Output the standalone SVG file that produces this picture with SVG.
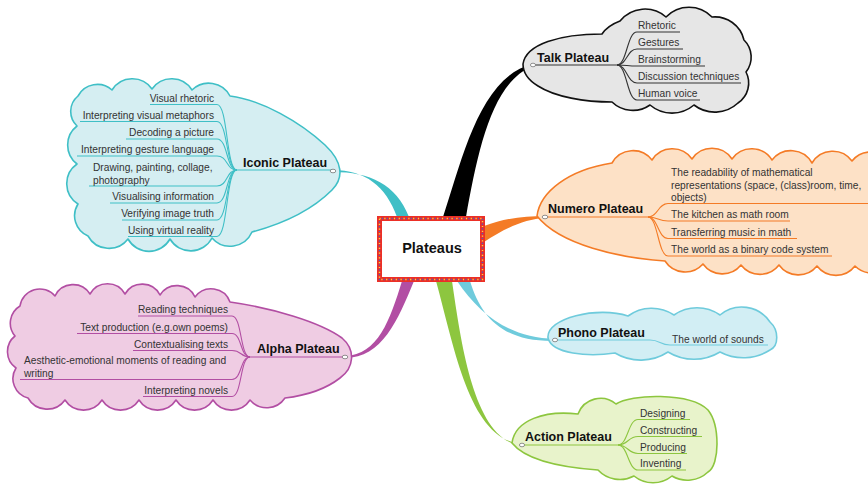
<svg xmlns="http://www.w3.org/2000/svg" xmlns:xlink="http://www.w3.org/1999/xlink" width="868" height="485" viewBox="0 0 868 485">
  <style>
    .t { font-family: "Liberation Sans", Arial, sans-serif; font-size: 10.2px; fill: #333; }
    .h { font-family: "Liberation Sans", Arial, sans-serif; font-size: 12.5px; font-weight: bold; fill: #111; }
    .c { font-family: "Liberation Sans", Arial, sans-serif; font-size: 14.5px; font-weight: bold; fill: #111; }
    .ln { fill: none; stroke-width: 1.1; }
    .cloud { stroke-width: 1.6; stroke-linejoin: round; }
    .dot { fill: #fff; stroke: #777; stroke-width: 0.8; }
  </style>

  <!-- tapered branches from the central topic -->
  <g id="connectors">
    <path d="M 443,217 C 462,160 480,76 533,64 L 533,66 C 492,82 478,150 466,217 Z" fill="#000"/>
    <path d="M 333,170 C 365,170 386,186 397,217 L 409,217 C 396,184 370,172 333,172 Z" fill="#3fbfc6"/>
    <path d="M 484,226 C 505,218 525,216 545,216 L 545,218 C 525,219 505,228 484,242 Z" fill="#f47b26"/>
    <path d="M 457,281 C 480,315 510,338 555,339 L 555,341 C 505,342 482,320 470,281 Z" fill="#6fcbdc"/>
    <path d="M 436,281 C 455,350 470,440 522,444 L 522,446 C 475,440 462,350 452,281 Z" fill="#8dc63f"/>
    <path d="M 402,281 C 390,320 378,355 345,356 L 345,358 C 382,358 398,320 414,281 Z" fill="#b24ea3"/>
  </g>

  <g id="talk">
    <path class="cloud" fill="#e6e6e6" stroke="#111" d="M 523,64 C 526,44 560,34 602,34 C 606,28 612,24 620,21 A 32,32 0 0 1 666,17 A 32,32 0 0 1 712,17 A 30,30 0 0 1 744,40 A 24,24 0 0 1 746,72 A 24,24 0 0 1 738,103 A 34,34 0 0 1 694,105 A 34,34 0 0 1 650,105 A 30,30 0 0 1 612,102 C 585,102 555,97 538,86 C 528,80 523,72 523,64 Z"/>
    <g class="ln" stroke="#333">
      <path d="M 533,65 H 617"/>
      <path d="M 617,65 C 627,65 627,32 637,32 H 680"/>
      <path d="M 617,65 C 627,65 627,49 637,49 H 683"/>
      <path d="M 617,65 C 627,65 627,66 637,66 H 705"/>
      <path d="M 617,65 C 627,65 627,83 637,83 H 741"/>
      <path d="M 617,65 C 627,65 627,100 637,100 H 700"/>
    </g>
    <text class="h" x="537" y="62">Talk Plateau</text>
    <text class="t" x="638" y="29">Rhetoric</text>
    <text class="t" x="638" y="46">Gestures</text>
    <text class="t" x="638" y="63">Brainstorming</text>
    <text class="t" x="638" y="80">Discussion techniques</text>
    <text class="t" x="638" y="97">Human voice</text>
    <ellipse class="dot" cx="533" cy="65" rx="2.6" ry="1.8"/>
  </g>

  <g id="iconic">
    <path class="cloud" fill="#d5eef2" stroke="#3fbfc6" d="M 78,96 A 22,22 0 0 1 112,90 A 24,24 0 0 1 152,89 A 24,24 0 0 1 192,90 A 24,24 0 0 1 230,96 C 262,100 300,122 325,145 C 343,162 344,178 332,190 C 312,210 282,224 252,232 A 24,24 0 0 1 212,238 A 24,24 0 0 1 170,239 A 24,24 0 0 1 128,239 A 24,24 0 0 1 88,236 A 22,22 0 0 1 78,204 A 24,24 0 0 1 77,164 A 24,24 0 0 1 77,126 A 20,20 0 0 1 78,96 Z"/>
    <g class="ln" stroke="#3fbfc6">
      <path d="M 237,170 H 333"/>
      <path d="M 237,170 C 226,170 228,104.5 217,104.5 H 150"/>
      <path d="M 237,170 C 226,170 228,121.5 217,121.5 H 80"/>
      <path d="M 237,170 C 226,170 228,139 217,139 H 126"/>
      <path d="M 237,170 C 226,170 228,156 217,156 H 77"/>
      <path d="M 237,170 C 226,170 228,186 217,186 H 89"/>
      <path d="M 237,170 C 226,170 228,203 217,203 H 110"/>
      <path d="M 237,170 C 226,170 228,220 217,220 H 122"/>
      <path d="M 237,170 C 226,170 228,236.5 217,236.5 H 128"/>
    </g>
    <text class="h" x="243" y="167">Iconic Plateau</text>
    <g class="t" text-anchor="end">
      <text class="t" x="214" y="101.5">Visual rhetoric</text>
      <text class="t" x="214" y="118.5">Interpreting visual metaphors</text>
      <text class="t" x="214" y="136">Decoding a picture</text>
      <text class="t" x="214" y="153">Interpreting gesture language</text>
      <text class="t" x="214" y="200">Visualising information</text>
      <text class="t" x="214" y="217">Verifying image truth</text>
      <text class="t" x="214" y="233.5">Using virtual reality</text>
    </g>
    <text class="t" x="93" y="171">Drawing, painting, collage,</text>
    <text class="t" x="93" y="183.5">photography</text>
    <ellipse class="dot" cx="333" cy="171" rx="2.8" ry="1.8"/>
  </g>

  <g id="numero">
    <path class="cloud" fill="#fde1c6" stroke="#f47b26" d="M 537,216 C 540,192 568,170 612,163 A 24,24 0 0 1 652,160 A 24,24 0 0 1 692,159 A 24,24 0 0 1 732,159 A 24,24 0 0 1 772,160 A 24,24 0 0 1 812,163 A 24,24 0 0 1 852,161 A 24,24 0 0 1 892,165 L 892,262 A 24,24 0 0 1 855,266 A 24,24 0 0 1 817,266 A 24,24 0 0 1 779,265 A 24,24 0 0 1 741,265 A 24,24 0 0 1 703,264 A 24,24 0 0 1 665,261 C 620,258 560,245 537,216 Z"/>
    <g class="ln" stroke="#f47b26">
      <path d="M 545,217 H 648"/>
      <path d="M 648,217 C 658,217 658,203.5 668,203.5 H 870"/>
      <path d="M 648,217 C 658,217 658,221 668,221 H 790"/>
      <path d="M 648,217 C 658,217 658,238.5 668,238.5 H 797"/>
      <path d="M 648,217 C 658,217 658,256 668,256 H 832"/>
    </g>
    <text class="h" x="548" y="213">Numero Plateau</text>
    <text class="t" x="671" y="176">The readability of mathematical</text>
    <text class="t" x="671" y="188.5">representations (space, (class)room, time,</text>
    <text class="t" x="671" y="201">objects)</text>
    <text class="t" x="671" y="218">The kitchen as math room</text>
    <text class="t" x="671" y="235.5">Transferring music in math</text>
    <text class="t" x="671" y="253">The world as a binary code system</text>
    <ellipse class="dot" cx="545" cy="217" rx="2.8" ry="1.8"/>
  </g>

  <g id="alpha">
    <path class="cloud" fill="#efcce3" stroke="#b24ea3" d="M 20,306 A 20,20 0 0 1 55,296 A 20,20 0 0 1 90,294 A 20,20 0 0 1 125,294 A 20,20 0 0 1 160,295 A 20,20 0 0 1 195,297 A 20,20 0 0 1 230,302 C 272,308 320,322 342,338 C 356,350 354,368 340,378 C 322,392 302,396 285,398 A 22,22 0 0 1 250,400 A 22,22 0 0 1 213,400 A 22,22 0 0 1 176,400 A 22,22 0 0 1 139,400 A 22,22 0 0 1 102,400 A 22,22 0 0 1 65,400 A 22,22 0 0 1 28,398 A 20,20 0 0 1 16,368 A 20,20 0 0 1 15,336 A 20,20 0 0 1 20,306 Z"/>
    <g class="ln" stroke="#b24ea3">
      <path d="M 250,357 H 345"/>
      <path d="M 250,357 C 240,357 242,316 232,316 H 138"/>
      <path d="M 250,357 C 240,357 242,333.5 232,333.5 H 77"/>
      <path d="M 250,357 C 240,357 242,350.5 232,350.5 H 133"/>
      <path d="M 250,357 C 240,357 242,379.5 232,379.5 H 20"/>
      <path d="M 250,357 C 240,357 242,396.5 232,396.5 H 143"/>
    </g>
    <text class="h" x="257" y="353">Alpha Plateau</text>
    <g class="t" text-anchor="end">
      <text class="t" x="228" y="313">Reading techniques</text>
      <text class="t" x="228" y="330.5">Text production (e.g.own poems)</text>
      <text class="t" x="228" y="347.5">Contextualising texts</text>
      <text class="t" x="228" y="393.5">Interpreting novels</text>
    </g>
    <text class="t" x="24" y="364">Aesthetic-emotional moments of reading and</text>
    <text class="t" x="24" y="376.5">writing</text>
    <ellipse class="dot" cx="345" cy="357" rx="2.8" ry="1.8"/>
  </g>

  <g id="phono">
    <path class="cloud" fill="#d2eef4" stroke="#6fcbdc" d="M 548,338 C 546,318 598,306 628,316 A 40,40 0 0 1 674,315 A 40,40 0 0 1 720,315 A 34,34 0 0 1 770,322 C 779,330 779,346 770,350 A 50,50 0 0 1 720,352 A 50,50 0 0 1 668,352 A 50,50 0 0 1 615,353 C 588,357 552,354 548,338 Z"/>
    <g class="ln" stroke="#6fcbdc">
      <path d="M 555,340 H 650 C 660,340 660,345 670,345 H 768"/>
    </g>
    <text class="h" x="558" y="337">Phono Plateau</text>
    <text class="t" x="672" y="343">The world of sounds</text>
    <ellipse class="dot" cx="555" cy="340" rx="2.6" ry="1.8"/>
  </g>

  <g id="action">
    <path class="cloud" fill="#e8f3cb" stroke="#8dc63f" d="M 512,443 C 515,420 545,410 578,414 A 24,24 0 0 1 616,404 C 630,394 690,392 708,410 C 720,425 720,465 708,472 A 30,30 0 0 1 672,476 A 30,30 0 0 1 634,476 A 30,30 0 0 1 598,470 C 570,468 528,463 512,443 Z"/>
    <g class="ln" stroke="#8dc63f">
      <path d="M 522,445 H 618"/>
      <path d="M 618,445 C 628,445 628,419.5 638,419.5 H 690"/>
      <path d="M 618,445 C 628,445 628,436.5 638,436.5 H 702"/>
      <path d="M 618,445 C 628,445 628,453.5 638,453.5 H 687"/>
      <path d="M 618,445 C 628,445 628,470 638,470 H 686"/>
    </g>
    <text class="h" x="525" y="441">Action Plateau</text>
    <text class="t" x="640" y="416.5">Designing</text>
    <text class="t" x="640" y="433.5">Constructing</text>
    <text class="t" x="640" y="450.5">Producing</text>
    <text class="t" x="640" y="467">Inventing</text>
    <ellipse class="dot" cx="522" cy="445" rx="2.6" ry="1.8"/>
  </g>

  <g id="plateaus">
    <rect x="379.5" y="218.5" width="103" height="61" fill="#fff" stroke="#ec2f26" stroke-width="5"/>
    <rect x="379.5" y="218.5" width="103" height="61" fill="none" stroke="#f6d24a" stroke-width="1.4" stroke-dasharray="1.2 3.6"/>
    <rect x="379.5" y="218.5" width="103" height="61" fill="none" stroke="#4a5fc4" stroke-width="1.4" stroke-dasharray="1.2 3.6" stroke-dashoffset="2.4"/>
    <text class="c" x="432" y="253" text-anchor="middle">Plateaus</text>
  </g>
</svg>
